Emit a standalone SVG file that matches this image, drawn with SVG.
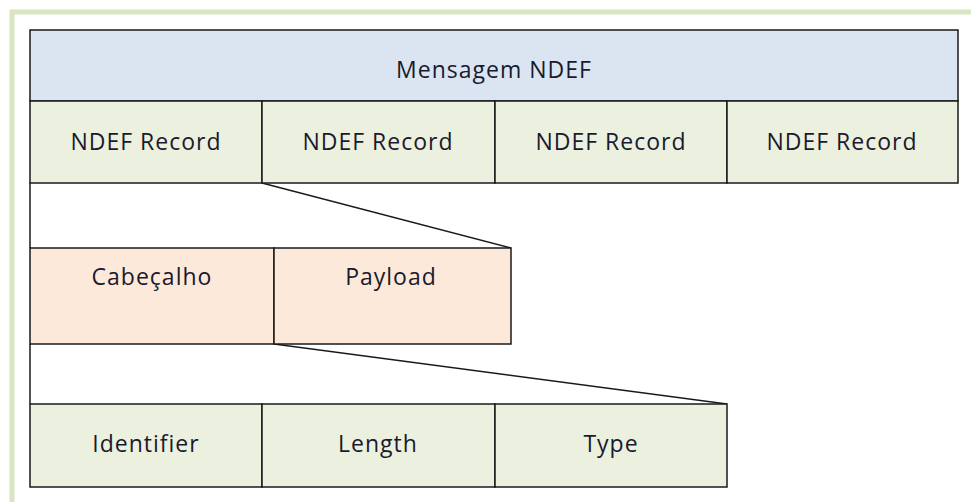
<svg xmlns="http://www.w3.org/2000/svg" width="971" height="502" viewBox="0 0 971 502">
<style>
.t{font-family:"Open Sans","Liberation Sans",sans-serif;font-size:23px;letter-spacing:1px;fill:#1a1a2e;text-anchor:middle;dominant-baseline:central}
.b{stroke:#1a1a1a;stroke-width:1.5}
.blue{fill:#dbe5f1}
.green{fill:#ebf1de}
.peach{fill:#fde9d9}
.c{stroke:#1a1a1a;stroke-width:1.5;fill:none}
</style>
<rect x="0" y="0" width="971" height="502" fill="#ffffff"/>
<path d="M12 502 V12 H971" fill="none" stroke="#d9e5c3" stroke-width="5"/>
<g id="connectors">
<line class="c" x1="30" y1="183" x2="30" y2="248"/>
<line class="c" x1="30" y1="344" x2="30" y2="404"/>
<line class="c" x1="262" y1="183" x2="511" y2="248"/>
<line class="c" x1="274" y1="344" x2="727" y2="404"/>
</g>
<g id="mensagem"><rect class="b blue" x="30" y="30" width="928" height="71"/><text class="t" x="494" y="69">Mensagem NDEF</text></g>
<g id="rec1"><rect class="b green" x="30" y="101" width="232" height="82"/><text class="t" x="146" y="141">NDEF Record</text></g>
<g id="rec2"><rect class="b green" x="262" y="101" width="233" height="82"/><text class="t" x="378" y="141">NDEF Record</text></g>
<g id="rec3"><rect class="b green" x="495" y="101" width="232" height="82"/><text class="t" x="611" y="141">NDEF Record</text></g>
<g id="rec4"><rect class="b green" x="727" y="101" width="231" height="82"/><text class="t" x="842" y="141">NDEF Record</text></g>
<g id="cabecalho"><rect class="b peach" x="30" y="248" width="244" height="96"/><text class="t" x="152" y="276">Cabeçalho</text></g>
<g id="payload"><rect class="b peach" x="274" y="248" width="237" height="96"/><text class="t" x="391" y="276">Payload</text></g>
<g id="identifier"><rect class="b green" x="30" y="404" width="232" height="83"/><text class="t" x="146" y="443">Identifier</text></g>
<g id="length"><rect class="b green" x="262" y="404" width="233" height="83"/><text class="t" x="378" y="443">Length</text></g>
<g id="type"><rect class="b green" x="495" y="404" width="232" height="83"/><text class="t" x="611" y="443">Type</text></g>
</svg>
